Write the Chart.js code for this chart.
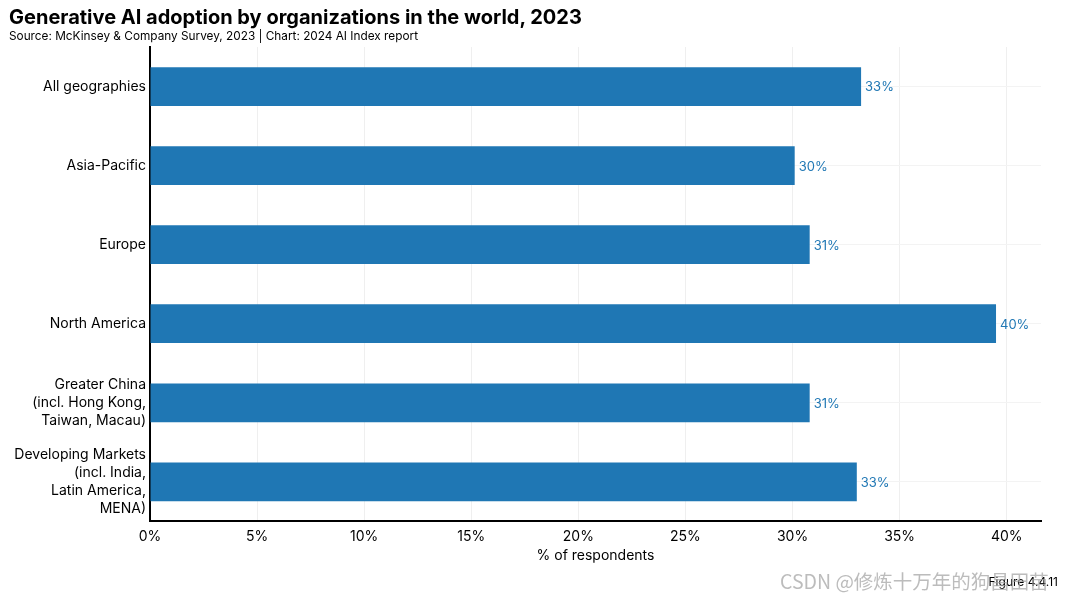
<!DOCTYPE html>
<html>
<head>
<meta charset="utf-8">
<script src="https://cdn.jsdelivr.net/npm/chart.js@4.4.1/dist/chart.umd.min.js"></script>
<style>
  html, body { margin: 0; padding: 0; background: #fff; }
  #wrap { position: relative; width: 1067px; height: 601px; font-family: "Inter", "Noto Sans", sans-serif; }
  #title { position: absolute; left: 9px; top: 5px; font-size: 20px; font-weight: 700; color: #000; }
  #subtitle { position: absolute; left: 9px; top: 29px; font-size: 11.8px; color: #000; }
  #figure { position: absolute; right: 9px; top: 574px; font-size: 12px; color: #000; }
  #mark { position: absolute; left: 780px; top: 566px; font-size: 19.5px; color: rgba(160,160,160,0.7); font-family: "Noto Sans CJK SC", sans-serif; }
</style>
</head>
<body>
<div id="wrap">
  <canvas id="chart" width="1067" height="601"></canvas>
  <div id="title">Generative AI adoption by organizations in the world, 2023</div>
  <div id="subtitle">Source: McKinsey &amp; Company Survey, 2023 | Chart: 2024 AI Index report</div>
  <div id="figure">Figure 4.4.11</div>
  <div id="mark">CSDN @修炼十万年的狗昌田苗</div>
</div>
<script>
const regions = [
  "All geographies",
  "Asia-Pacific",
  "Europe",
  "North America",
  ["Greater China", "(incl. Hong Kong,", "Taiwan, Macau)"],
  ["Developing Markets", "(incl. India,", "Latin America,", "MENA)"]
];
const adoption = [33.2, 30.1, 30.8, 39.5, 30.8, 33.0];
const barColor = "#1f77b4";

// value labels at the end of each bar
const valueLabels = {
  id: "valueLabels",
  afterDatasetsDraw(chart) {
    const ctx = chart.ctx;
    const meta = chart.getDatasetMeta(0);
    ctx.save();
    ctx.fillStyle = barColor;
    ctx.font = "13px Inter, 'Noto Sans', sans-serif";
    ctx.textAlign = "left";
    ctx.textBaseline = "middle";
    meta.data.forEach((bar, i) => {
      ctx.fillText(Math.round(adoption[i]) + "%", bar.x + 4, bar.y + 1);
    });
    ctx.restore();
  }
};

new Chart(document.getElementById("chart"), {
  type: "bar",
  data: {
    labels: regions,
    datasets: [{
      data: adoption,
      backgroundColor: barColor,
      borderWidth: 0,
      categoryPercentage: 1,
      barPercentage: 0.49
    }]
  },
  options: {
    indexAxis: "y",
    responsive: false,
    animation: false,
    layout: { padding: { top: 47, right: 26, bottom: 37, left: 0 } },
    plugins: {
      legend: { display: false },
      tooltip: { enabled: false }
    },
    scales: {
      x: {
        min: 0,
        max: 41.6,
        afterBuildTicks(scale) {
          scale.ticks = [0, 5, 10, 15, 20, 25, 30, 35, 40].map(v => ({ value: v }));
        },
        ticks: {
          color: "#000",
          font: { size: 14, family: "Inter, 'Noto Sans', sans-serif" },
          padding: 7,
          callback: v => v + "%"
        },
        grid: { color: "#efefef", drawTicks: false },
        border: { color: "#000", width: 2 },
        title: {
          display: true,
          text: "% of respondents",
          color: "#000",
          font: { size: 14, family: "Inter, 'Noto Sans', sans-serif" },
          padding: { top: -5, bottom: 0 }
        }
      },
      y: {
        afterFit(scale) { scale.width = 150; },
        ticks: {
          color: "#000",
          font: { size: 14, family: "Inter, 'Noto Sans', sans-serif", lineHeight: 1.3 },
          padding: 4
        },
        grid: { color: "#f3f3f3", drawTicks: false, offset: false },
        border: { color: "#000", width: 2 }
      }
    }
  },
  plugins: [valueLabels]
});
</script>
</body>
</html>
